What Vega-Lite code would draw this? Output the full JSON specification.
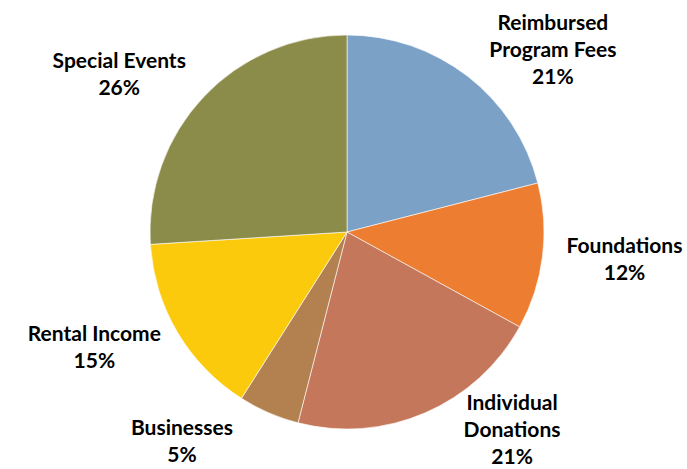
{
  "$schema": "https://vega.github.io/schema/vega-lite/v6.json",
  "width": 680,
  "height": 464,
  "autosize": {"type": "none"},
  "padding": {"left": 7, "right": 0, "top": 0, "bottom": 5},
  "background": "white",
  "view": {"stroke": null},
  "data": {
    "values": [
      {"source": "Reimbursed Program Fees", "display": "Reimbursed\nProgram Fees", "value": 21, "order": 1},
      {"source": "Foundations", "display": "Foundations", "value": 12, "order": 2},
      {"source": "Individual Donations", "display": "Individual\nDonations", "value": 21, "order": 3},
      {"source": "Businesses", "display": "Businesses", "value": 5, "order": 4},
      {"source": "Rental Income", "display": "Rental Income", "value": 15, "order": 5},
      {"source": "Special Events", "display": "Special Events", "value": 26, "order": 6}
    ]
  },
  "transform": [
    {"calculate": "datum.display + '\\n' + datum.value + '%'", "as": "labelText"}
  ],
  "encoding": {
    "theta": {"field": "value", "type": "quantitative", "stack": true},
    "order": {"field": "order", "type": "quantitative"},
    "color": {
      "field": "source",
      "type": "nominal",
      "legend": null,
      "scale": {
        "domain": ["Reimbursed Program Fees", "Foundations", "Individual Donations", "Businesses", "Rental Income", "Special Events"],
        "range": ["#7BA1C7", "#ED7D31", "#C4775A", "#B3814F", "#FCCA0D", "#8B8C4A"]
      }
    }
  },
  "layer": [
    {
      "mark": {"type": "arc", "radius": 197, "stroke": "#ffffff", "strokeWidth": 0.6}
    },
    {
      "mark": {
        "type": "text",
        "radius": 229,
        "lineBreak": "\n",
        "font": "Lato",
        "fontWeight": "bold",
        "fontSize": 21,
        "lineHeight": 27,
        "fill": "#000000",
        "align": "center",
        "baseline": "middle",
        "dx": {"expr": "-40 * sin(scale('theta', (datum.value_start + datum.value_end) / 2)) + (sin(scale('theta', (datum.value_start + datum.value_end) / 2)) >= 0 ? 90 : -90)"},
        "dy": {"expr": "min(-(length(split(datum.labelText, '\\n')) - 1) * 13.5, (height - 6) - (height / 2 - 229 * cos(scale('theta', (datum.value_start + datum.value_end) / 2))) - (length(split(datum.labelText, '\\n')) - 1) * 27)"}
      },
      "encoding": {
        "text": {"field": "labelText", "type": "nominal"},
        "color": {"value": "#000000"}
      }
    }
  ]
}
